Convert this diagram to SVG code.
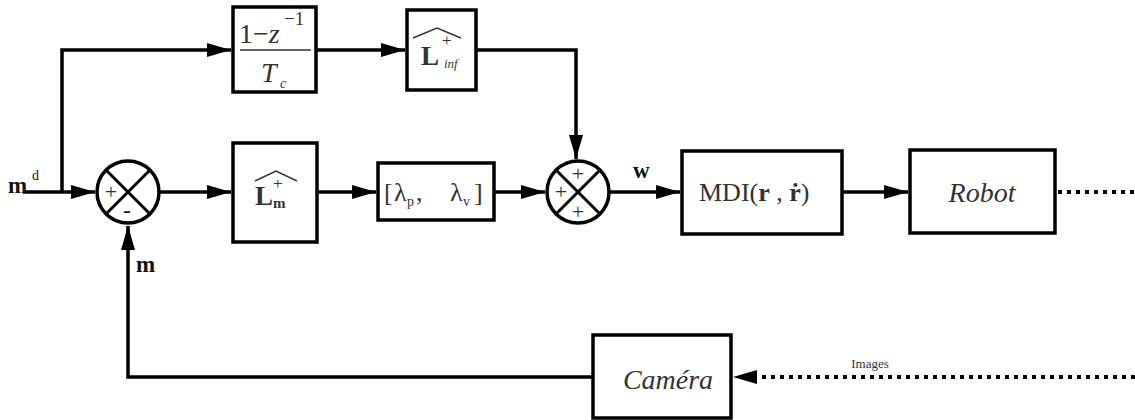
<svg xmlns="http://www.w3.org/2000/svg" width="1135" height="420" viewBox="0 0 1135 420" font-family="'Liberation Serif','DejaVu Serif',serif">
<defs>
<marker id="ahb" markerWidth="24" markerHeight="14" refX="24" refY="7" orient="auto" markerUnits="userSpaceOnUse" viewBox="0 0 24 14">
<path d="M0,0 L24,7 L0,14 Z" fill="#000"/>
</marker>
</defs>
<style>
.box{fill:#fff;stroke:#000;stroke-width:3.5}
.sum{fill:#fff;stroke:#000;stroke-width:3.5}
.x{stroke:#000;stroke-width:3}
.w{fill:none;stroke:#000;stroke-width:3.5}
.dot{fill:none;stroke:#000;stroke-width:4;stroke-dasharray:4 5}
text{font-family:'Liberation Serif','DejaVu Serif',serif}
.t{fill:#333}
.k{fill:#111}
.b{font-weight:bold}
.i{font-style:italic}
.hat{fill:none;stroke:#333;stroke-width:1.4}
</style>
<rect width="1135" height="420" fill="#fff"/>
<g id="connectors">
<polyline class="w" points="23,192 95,192" marker-end="url(#ahb)"/>
<polyline class="w" points="62,192 62,50 231,50" marker-end="url(#ahb)"/>
<polyline class="w" points="316,50 405,50" marker-end="url(#ahb)"/>
<polyline class="w" points="476,50 576,50 576,159" marker-end="url(#ahb)"/>
<polyline class="w" points="160,192 231,192" marker-end="url(#ahb)"/>
<polyline class="w" points="317,192 376,192" marker-end="url(#ahb)"/>
<polyline class="w" points="494,192 545,192" marker-end="url(#ahb)"/>
<polyline class="w" points="610,192 680,192" marker-end="url(#ahb)"/>
<polyline class="w" points="842,192 908,192" marker-end="url(#ahb)"/>
<line class="dot" x1="1058" y1="192" x2="1135" y2="192"/>
<line class="dot" x1="1135" y1="377" x2="752" y2="377"/>
<path d="M757,370 L733,377 L757,384 Z" fill="#000"/>
<polyline class="w" points="593,377 128,377 128,226" marker-end="url(#ahb)"/>
<text class="t" x="870" y="368" font-size="13" text-anchor="middle">Images</text>
<text class="k b" x="8" y="193" font-size="23">m</text>
<text class="k" x="32" y="180" font-size="14">d</text>
<text class="k b" x="136" y="272" font-size="23">m</text>
<text class="k b" x="633" y="178" font-size="23">w</text>
</g>
<g id="sum1">
<circle class="sum" cx="128" cy="192" r="31"/>
<line class="x" x1="106" y1="170" x2="150" y2="214"/>
<line class="x" x1="150" y1="170" x2="106" y2="214"/>
<text class="t" x="111" y="199" font-size="22" text-anchor="middle">+</text>
<text class="k" x="127" y="218" font-size="24" text-anchor="middle">-</text>
</g>
<g id="sum2">
<circle class="sum" cx="578" cy="192" r="31"/>
<line class="x" x1="556" y1="170" x2="600" y2="214"/>
<line class="x" x1="600" y1="170" x2="556" y2="214"/>
<text class="t" x="578" y="181" font-size="22" text-anchor="middle">+</text>
<text class="t" x="561" y="199" font-size="22" text-anchor="middle">+</text>
<text class="t" x="578" y="219" font-size="22" text-anchor="middle">+</text>
</g>
<g id="deriv">
<rect class="box" x="233" y="7" width="83" height="85"/>
<text class="t" x="239" y="43" font-size="28">1−<tspan font-style="italic">z</tspan></text>
<text class="t" x="284" y="25" font-size="19">−1</text>
<line x1="240" y1="50" x2="311" y2="50" stroke="#333" stroke-width="1.6"/>
<text class="t i" x="261" y="82" font-size="28">T</text>
<text class="t i" x="280" y="88" font-size="14">c</text>
</g>
<g id="Linf">
<rect class="box" x="407" y="10" width="69" height="80"/>
<path class="hat" d="M413,38 L437,28 L461,38"/>
<text class="t b" x="421" y="65" font-size="27">L</text>
<text class="t" x="442" y="46" font-size="17">+</text>
<text class="t i" x="444" y="68" font-size="13">inf</text>
</g>
<g id="Lm">
<rect class="box" x="233" y="143" width="84" height="99"/>
<path class="hat" d="M255,181 L276,171 L297,181"/>
<text class="t b" x="255" y="205" font-size="27">L</text>
<text class="t" x="273" y="189" font-size="17">+</text>
<text class="t b" x="273" y="208" font-size="15">m</text>
</g>
<g id="gains">
<rect class="box" x="378" y="163" width="116" height="57"/>
<text class="t" x="384" y="201" font-size="26">[</text>
<text class="t" x="394" y="201" font-size="26">λ</text>
<text class="t" x="407" y="206" font-size="14">p</text>
<text class="t" x="416" y="201" font-size="26">,</text>
<text class="t" x="450" y="201" font-size="26">λ</text>
<text class="t" x="463" y="206" font-size="14">v</text>
<text class="t" x="474" y="201" font-size="26">]</text>
</g>
<g id="mdi">
<rect class="box" x="682" y="151" width="160" height="83"/>
<text class="t" x="699" y="201" font-size="26">MDI(<tspan font-weight="bold">r</tspan> , <tspan font-weight="bold">ṙ</tspan>)</text>
</g>
<g id="robot">
<rect class="box" x="910" y="150" width="145" height="83"/>
<text class="t i" x="982" y="202" font-size="28" text-anchor="middle">Robot</text>
</g>
<g id="camera">
<rect class="box" x="593" y="335" width="138" height="83"/>
<text class="t i" x="668" y="389" font-size="28" text-anchor="middle">Caméra</text>
</g>
</svg>
